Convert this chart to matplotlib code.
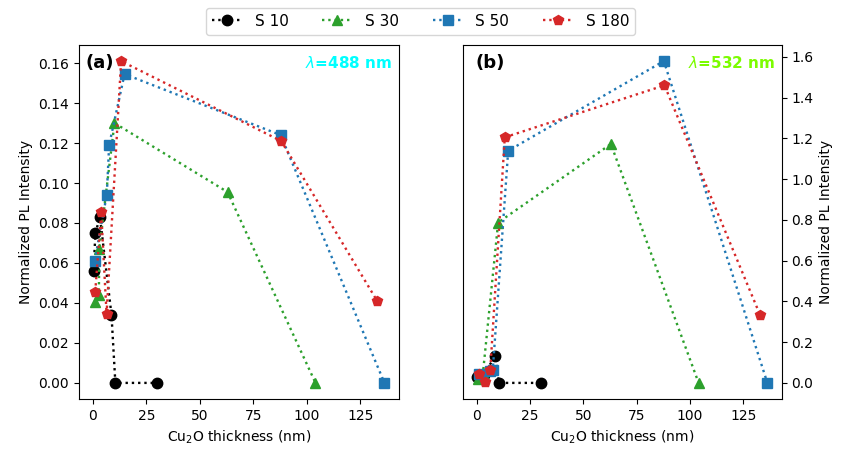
import numpy as np
import matplotlib
matplotlib.use('Agg')
import matplotlib.pyplot as plt

labels = ['S 10', 'S 30', 'S 50', 'S 180']
colors = ['black', 'tab:green', 'tab:blue', 'tab:red']
markers = ['o', '^', 's', 'p']

# thickness (nm) for each sample
x_s10 = [0.3, 1.2, 3.3, 8.7, 10.5, 30.0]
x_s30 = [0.8, 2.8, 3.0, 10.1, 62.9, 104.0]
x_s50 = [0.9, 6.5, 7.6, 14.8, 87.7, 136.2]
x_s180 = [1.1, 3.9, 6.4, 13.2, 88.0, 132.8]

# normalized PL, 488 nm excitation
y488_s10 = [0.056, 0.075, 0.083, 0.034, 0.0, 0.0]
y488_s30 = [0.0405, 0.044, 0.067, 0.130, 0.0955, 0.0]
y488_s50 = [0.0611, 0.0942, 0.119, 0.1545, 0.124, 0.0]
y488_s180 = [0.0456, 0.0853, 0.0344, 0.161, 0.121, 0.041]

# normalized PL, 532 nm excitation
y532_s10 = [0.028, 0.03, 0.04, 0.131, 0.0, 0.0]
y532_s30 = [0.017, 0.03, 0.05, 0.787, 1.172, 0.0]
y532_s50 = [0.045, 0.06, 0.065, 1.139, 1.579, 0.0]
y532_s180 = [0.046, 0.005, 0.062, 1.205, 1.46, 0.333]

xs = [x_s10, x_s30, x_s50, x_s180]
ys488 = [y488_s10, y488_s30, y488_s50, y488_s180]
ys532 = [y532_s10, y532_s30, y532_s50, y532_s180]

fig = plt.figure(figsize=(8.41, 4.55), dpi=100)
ax1 = fig.add_axes([0.0939, 0.1231, 0.3805, 0.778])
ax2 = fig.add_axes([0.5502, 0.1231, 0.3795, 0.778])

for x, y, c, m, lab in zip(xs, ys488, colors, markers, labels):
    ax1.plot(x, y, ls=':', lw=1.7, color=c, marker=m, ms=7.5, label=lab)
for x, y, c, m, lab in zip(xs, ys532, colors, markers, labels):
    ax2.plot(x, y, ls=':', lw=1.7, color=c, marker=m, ms=7.5, label=lab)

ax1.set_ylabel('Normalized PL Intensity')
ax1.set_xlabel('Cu$_2$O thickness (nm)')
ax2.set_xlabel('Cu$_2$O thickness (nm)')
ax2.yaxis.tick_right()
ax2.yaxis.set_label_position('right')
ax2.set_ylabel('Normalized PL Intensity')
ax2.set_yticks(np.arange(0, 1.61, 0.2))
ax1.set_xticks([0, 25, 50, 75, 100, 125])
ax2.set_xticks([0, 25, 50, 75, 100, 125])

ax1.text(0.02, 0.95, '(a)', transform=ax1.transAxes, fontsize=13,
         fontweight='bold', va='center')
ax2.text(0.04, 0.95, '(b)', transform=ax2.transAxes, fontsize=13,
         fontweight='bold', va='center')
ax1.text(0.98, 0.95, r'$\lambda$=488 nm', transform=ax1.transAxes, fontsize=11,
         fontweight='bold', color='cyan', ha='right', va='center')
ax2.text(0.98, 0.95, r'$\lambda$=532 nm', transform=ax2.transAxes, fontsize=11,
         fontweight='bold', color='lawngreen', ha='right', va='center')

handles, labs = ax1.get_legend_handles_labels()
fig.legend(handles, labs, loc='upper center', bbox_to_anchor=(0.5, 1.0),
           ncol=4, fontsize=11, columnspacing=2.2)

fig.savefig('out.png', dpi=100)
